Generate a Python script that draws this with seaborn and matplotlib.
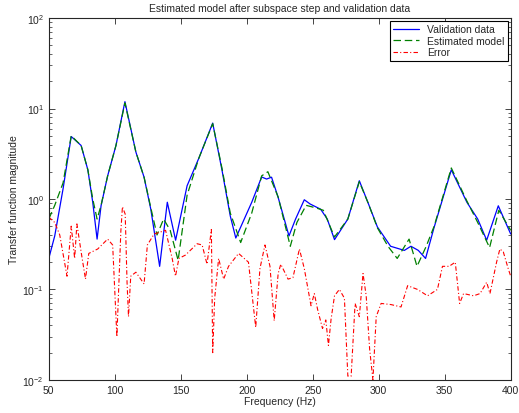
import matplotlib
matplotlib.use("Agg")
import matplotlib.pyplot as plt
import seaborn as sns
import pandas as pd

# Validation data (blue)
freq_val = [50, 54.5, 60.8, 67, 74.5, 79.6, 83.3, 86.6, 89.6, 94.6, 100.9, 107.7,
            116, 122.2, 127.3, 134, 139.8, 146.1, 154.8, 163.6, 174.2, 181.2, 187.5,
            191.7, 203.8, 211.3, 215, 218.8, 223.8, 232, 237, 243.6, 248, 256, 261,
            266.5, 276.6, 285.3, 292, 299, 309, 319.4, 324.4, 330, 335.5, 341.7, 355,
            366.8, 375, 381.8, 390.6, 395, 400]
mag_val = [0.22, 0.39, 1.29, 4.9, 3.9, 2.1, 0.92, 0.36, 0.84, 1.8, 3.9, 11.9,
           3.3, 1.74, 0.77, 0.18, 0.92, 0.35, 1.4, 2.8, 6.9, 2.1, 0.65,
           0.37, 0.92, 1.75, 1.66, 1.74, 1.04, 0.39, 0.6, 0.98, 0.88, 0.77, 0.6,
           0.355, 0.6, 1.59, 0.9, 0.49, 0.30, 0.27, 0.30, 0.27, 0.22, 0.47, 2.1,
           0.92, 0.6, 0.35, 0.84, 0.6, 0.41]

# Estimated model (green)
freq_est = [50, 54.5, 60.8, 67, 74.5, 79.6, 83.3, 86.6, 89.6, 94.6, 100.9, 107.7,
            116, 122.2, 127.3, 132, 137, 142, 148, 154.8, 163.6, 174.2, 181.2, 187.5,
            195.4, 203.8, 211.3, 216, 223.8, 233, 238, 245, 252, 258, 266.5, 276.6,
            285.3, 292, 299, 307, 314, 323, 329, 336, 342, 355, 366.8, 375, 384,
            391, 400]
mag_est = [0.6, 0.85, 1.5, 5.0, 3.9, 2.1, 1.0, 0.6, 0.85, 1.8, 3.9, 11.5,
           3.3, 1.74, 0.8, 0.4, 0.6, 0.45, 0.21, 1.1, 2.8, 6.8, 2.2, 0.7,
           0.33, 0.7, 1.8, 2.0, 1.05, 0.3, 0.55, 0.85, 0.8, 0.75, 0.38, 0.6,
           1.55, 0.9, 0.48, 0.3, 0.22, 0.36, 0.18, 0.3, 0.5, 2.2, 0.95, 0.55, 0.29,
           0.75, 0.45]

# Error (red)
freq_err = [50, 54.5, 58.3, 63.8, 67, 69.6, 71.3, 74.5, 77.8, 80.3,
            87.1, 94.6, 98.4, 101.6, 104.6, 105.8, 107.9, 109.3, 110.4, 112.1,
            116, 122.2, 124.7, 129.8, 138.5, 143.5, 146, 148.6, 153.6, 162.4,
            166.2, 169.9, 173.2, 174.2, 175.7, 178.7, 182.5, 186.2, 193.8, 201.3,
            206.8, 210, 213.8, 217.6, 220.8, 223.8, 225.8, 231.3, 235, 239.9,
            243.6, 248.7, 251.2, 253.7, 257.4, 259.9, 261.9, 263.9, 266.5, 270.2,
            274, 276.6, 279.1, 282.1, 285.3, 288.1, 290.5, 293.1, 295.6, 298.1,
            301.8, 309.3, 316.9, 321.9, 329.4, 337, 344.5, 348.3, 353.3, 358,
            361.3, 364.3, 371.9, 376.8, 381.8, 384.3, 389.3, 391.8, 394.4, 398.1,
            400]
mag_err = [0.63, 0.55, 0.40, 0.14, 0.5, 0.22, 0.53, 0.26, 0.13, 0.25,
           0.28, 0.36, 0.31, 0.03, 0.44, 0.82, 0.68, 0.12, 0.05, 0.14,
           0.155, 0.115, 0.31, 0.41, 0.45, 0.22, 0.14, 0.22, 0.24, 0.32,
           0.31, 0.19, 0.46, 0.02, 0.08, 0.22, 0.13, 0.18, 0.25, 0.2,
           0.038, 0.17, 0.31, 0.18, 0.045, 0.15, 0.19, 0.13, 0.135, 0.28,
           0.17, 0.066, 0.09, 0.06, 0.037, 0.046, 0.024, 0.047, 0.085, 0.1,
           0.08, 0.011, 0.011, 0.07, 0.05, 0.15, 0.085, 0.022, 0.01, 0.05,
           0.07, 0.068, 0.064, 0.11, 0.1, 0.085, 0.1, 0.18, 0.18, 0.2,
           0.07, 0.09, 0.085, 0.09, 0.12, 0.09, 0.2, 0.28, 0.26, 0.17,
           0.14]

sns.set_style("ticks")
plt.rcParams['font.family'] = ['Liberation Sans', 'DejaVu Sans']
plt.rcParams['mathtext.default'] = 'regular'
plt.rcParams['font.size'] = 7.5

fig = plt.figure(figsize=(5.19, 4.14), dpi=100)
ax = fig.add_axes([0.094, 0.080, 0.89, 0.874])

df_val = pd.DataFrame({'f': freq_val, 'm': mag_val})
df_est = pd.DataFrame({'f': freq_est, 'm': mag_est})
df_err = pd.DataFrame({'f': freq_err, 'm': mag_err})

sns.lineplot(data=df_val, x='f', y='m', ax=ax, color='#0000ff', lw=0.9,
             label='Validation data')
sns.lineplot(data=df_est, x='f', y='m', ax=ax, color='#008000', lw=0.9,
             label='Estimated model')
sns.lineplot(data=df_err, x='f', y='m', ax=ax, color='#ff0000', lw=0.8,
             label='Error')
ax.lines[1].set_dashes((6, 3))
ax.lines[2].set_dashes((4, 2, 1, 2))

ax.set_yscale('log')
ax.set_xlim(50, 400)
ax.set_ylim(1e-2, 1e2)
ax.set_xticks(range(50, 401, 50))
ax.tick_params(which='both', direction='in', top=True, right=True, labelsize=7.5)
ax.tick_params(which='major', length=4, width=0.6)
ax.tick_params(which='minor', length=2, width=0.5)
for s in ax.spines.values():
    s.set_linewidth(0.8)

ax.set_title('Estimated model after subspace step and validation data', fontsize=7.5, pad=5)
ax.set_xlabel('Frequency (Hz)', fontsize=7.5, labelpad=1)
ax.set_ylabel('Transfer function magnitude', fontsize=7.5, labelpad=2)

leg = ax.legend(loc='upper right', fancybox=False, edgecolor='black', framealpha=1,
                fontsize=7.5, handlelength=2.5, borderpad=0.3, labelspacing=0.15,
                borderaxespad=0.3)
leg.get_frame().set_linewidth(0.8)

fig.savefig('out.png', dpi=100)
